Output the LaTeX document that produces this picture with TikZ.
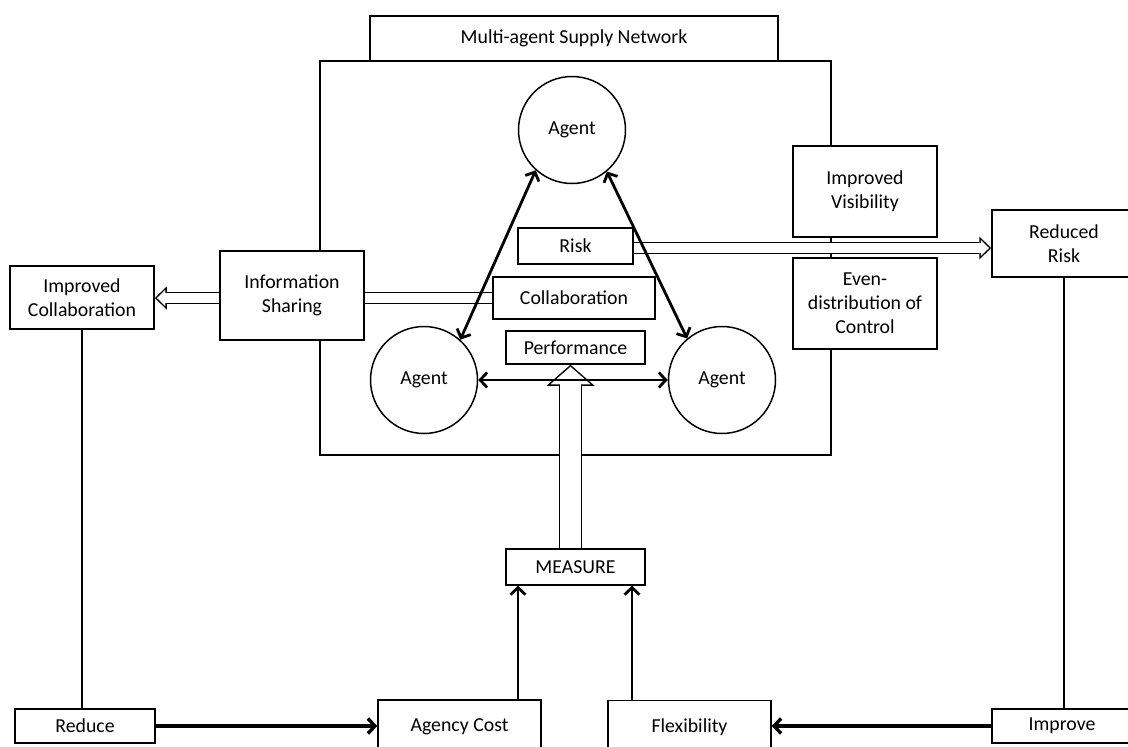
\documentclass[tikz,border=0pt]{standalone}
\usepackage{fontspec}
\setmainfont{Carlito}
\usepackage{tikz}
\usetikzlibrary{arrows.meta}
\tikzstyle{box} = [draw, fill=white, line width=1.5pt, align=center, inner sep=0pt]
\tikzstyle{agent} = [draw, fill=white, circle, line width=1.5pt, inner sep=0pt, minimum size=107pt]
\tikzstyle{arrow} = [line width=2.8pt, -{Straight Barb[length=7pt,width=15pt]}]
\tikzstyle{twoway} = [line width=2.8pt, {Straight Barb[length=7pt,width=15pt]}-{Straight Barb[length=7pt,width=15pt]}]
\tikzstyle{link} = [line width=2.8pt]
\tikzstyle{hollow} = [line width=12.5pt, shorten <=0.7pt, -{Triangle[length=12pt,width=23pt,line width=0pt]},
  postaction={draw=white, line width=9.5pt, shorten >=2.2pt, -{Triangle[length=8.3pt,width=16pt,line width=0pt,fill=white]}}]
\tikzstyle{hollowbar} = [line width=12.5pt, shorten <=0.7pt, shorten >=0.7pt, postaction={draw=white, line width=9.5pt}]
\tikzstyle{bighollow} = [line width=23.5pt, shorten <=0.7pt, -{Triangle[length=21pt,width=48pt,line width=0pt]},
  postaction={draw=white, line width=20.5pt, shorten >=2pt, -{Triangle[length=17.5pt,width=40pt,line width=0pt,fill=white]}}]

\begin{document}
\begin{tikzpicture}[x=1pt, y=-1pt, font=\fontsize{19.8}{24}\selectfont]
    \useasboundingbox (0,0) rectangle (1128,747);
    \clip (0,0) rectangle (1128,747);

    % Network frame
    \node (frame) [draw, line width=1.5pt, inner sep=0pt, minimum width=511pt, minimum height=394pt] at (575.5,258) {};
    \node (title) [box, minimum width=408pt, minimum height=45pt] at (574,38.5) {Multi-agent Supply Network};

    % Agents
    \node (agtop) [agent] at (572,130) {Agent};
    \node (agleft) [agent] at (424,380) {Agent};
    \node (agright) [agent] at (722,380) {Agent};

    \node (risk) [box, minimum width=115pt, minimum height=36pt] at (575.5,246) {Risk};
    \node (collab) [box, minimum width=162pt, minimum height=42pt] at (574,298) {Collaboration};
    \node (perf) [box, minimum width=139pt, minimum height=33pt] at (575.5,347.5) {Performance};

    % Boxes on the frame
    \node (infoshare) [box, minimum width=144pt, minimum height=89pt] at (292,295.5) {Information\\Sharing};
    \node (visib) [box, minimum width=144pt, minimum height=91pt] at (865,191.5) {Improved\\Visibility};
    \node (evendist) [box, minimum width=144pt, minimum height=91pt] at (865,303.5) {Even-\\distribution of\\Control};

    % Outcomes
    \node (impcollab) [box, minimum width=144pt, minimum height=63pt] at (82,297.5) {Improved\\Collaboration};
    \node (redrisk) [box, minimum width=144pt, minimum height=67pt] at (1064,243.5) {Reduced\\Risk};

    % Measure row
    \node (measure) [box, minimum width=139pt, minimum height=36pt] at (575.5,567) {MEASURE};
    \node (reduce) [box, minimum width=140pt, minimum height=34pt] at (85,726) {Reduce};
    \node (agency) [box, minimum width=163pt, minimum height=54pt] at (459.5,727) {Agency Cost};
    \node (flex) [box, minimum width=163pt, minimum height=54pt] at (689.5,727.5) {Flexibility};
    \node (improve) [box, minimum width=140pt, minimum height=34pt] at (1062,726) {Improve};

    % Hollow arrows
    \draw[hollowbar] (collab.west) -- (infoshare.east |- collab.west);
    \draw[hollow] (infoshare.west |- collab.west) -- (impcollab.east |- collab.west);
    \draw[hollow] ([yshift=-2pt]risk.east) -- ([yshift=-2pt]redrisk.west |- risk.east);
    \draw[bighollow] ([xshift=-5pt]measure.north) -- ([xshift=-5pt]perf.south);

    % Edges
    \draw[twoway] (agtop.228) -- (agleft.48);
    \draw[twoway] (agtop.310) -- (agright.130);
    \draw[twoway] (agleft.east) -- (agright.west);

    \draw[link] (impcollab.south) -- (impcollab.south |- reduce.north);
    \draw[link] (redrisk.south) -- (redrisk.south |- improve.north);
    \draw[arrow, line width=3.4pt] (reduce.east) -- (reduce.east -| agency.west);
    \draw[arrow, line width=3.4pt] (improve.west) -- (improve.west -| flex.east);
    \draw[arrow] ([xshift=58.5pt]agency.north) -- ([xshift=58.5pt]agency.north |- measure.south);
    \draw[arrow] ([xshift=-57.5pt]flex.north) -- ([xshift=-57.5pt]flex.north |- measure.south);
\end{tikzpicture}
\end{document}
